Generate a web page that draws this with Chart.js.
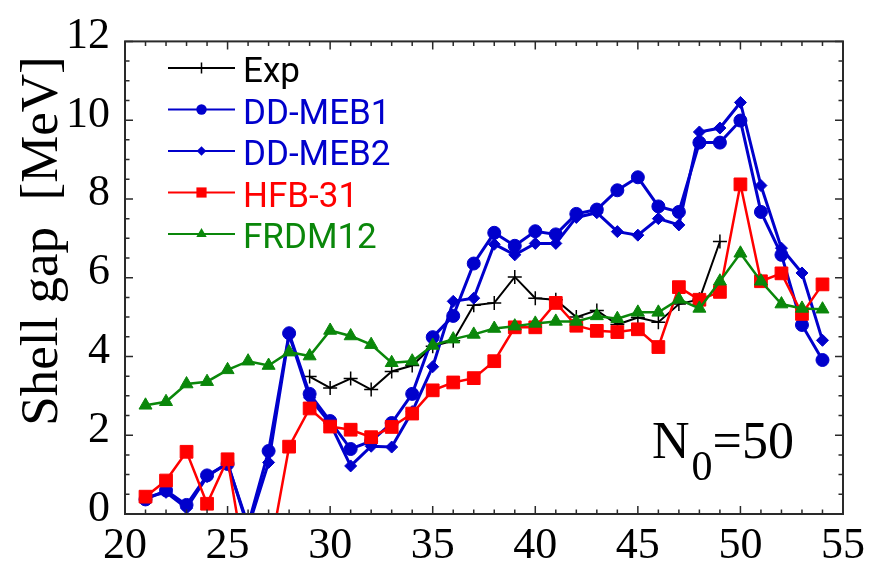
<!DOCTYPE html>
<html>
<head>
<meta charset="utf-8">
<style>
  html, body { margin: 0; padding: 0; background: #fff; overflow: hidden; }
  #wrap { width: 871px; height: 569px; position: relative; }
</style>
<script src="https://cdn.jsdelivr.net/npm/chart.js@4.4.1/dist/chart.umd.min.js"></script>
</head>
<body>
<div id="wrap"><canvas id="c" width="871" height="569"></canvas></div>
<script>
// Proton number Z along the N0 = 50 shell closure
const protonNumbers = [21, 22, 23, 24, 25, 26, 27, 28, 29, 30, 31, 32, 33, 34, 35, 36, 37,
                       38, 39, 40, 41, 42, 43, 44, 45, 46, 47, 48, 49, 50, 51, 52, 53, 54];

// Shell gaps in MeV (null = no value)
const expGap = [null, null, null, null, null, null, null, null,
                3.49, 3.20, 3.44, 3.16, 3.62, 3.77, 4.26, 4.40, 5.30, 5.36, 6.02, 5.48, 5.44,
                5.00, 5.17, 4.81, 4.99, 4.87, 5.33, 5.45, 6.92, null, null, null, null, null];
const ddMeb1Gap = [0.37, 0.60, 0.23, 0.98, 1.27, -0.28, 1.60, 4.59, 3.05, 2.36, 1.65, 1.85,
                   2.31, 3.05, 4.49, 5.03, 6.36, 7.14, 6.81, 7.18, 7.10, 7.62, 7.73, 8.22,
                   8.55, 7.81, 7.67, 9.43, 9.43, 9.99, 7.67, 6.58, 4.80, 3.91];
const ddMeb2Gap = [0.42, 0.55, 0.15, 0.95, 1.30, -0.35, 1.31, 4.55, 2.95, 2.30, 1.22, 1.72,
                   1.70, 2.60, 3.74, 5.40, 5.48, 6.85, 6.58, 6.87, 6.87, 7.53, 7.65, 7.17,
                   7.08, 7.50, 7.34, 9.70, 9.80, 10.45, 8.34, 6.75, 6.12, 4.41];
const hfb31Gap = [0.44, 0.85, 1.58, 0.26, 1.39, -1.70, -1.15, 1.71, 2.68, 2.22, 2.14, 1.95,
                  2.21, 2.55, 3.14, 3.34, 3.45, 3.88, 4.74, 4.74, 5.36, 4.78, 4.65, 4.62,
                  4.69, 4.24, 5.76, 5.44, 5.64, 8.37, 5.91, 6.11, 5.08, 5.83];
const frdm12Gap = [2.76, 2.85, 3.30, 3.36, 3.66, 3.88, 3.77, 4.11, 4.01, 4.66, 4.52, 4.30,
                   3.84, 3.88, 4.28, 4.44, 4.56, 4.71, 4.77, 4.84, 4.89, 4.89, 5.03, 4.96,
                   5.12, 5.12, 5.45, 5.22, 5.91, 6.62, 5.91, 5.33, 5.22, 5.20];

const seriesNames = ['Exp', 'DD-MEB1', 'DD-MEB2', 'HFB-31', 'FRDM12'];

// Axis ranges and tick steps
const xRange = [20, 55];
const xLabelStep = 5;
const yRange = [0, 12];
const yLabelStep = 2;

const BLUE = '#0000cc';
const RED = '#ff0000';
const GREEN = '#0a870a';
const BLACK = '#000000';

function toPoints(values) {
  return protonNumbers.map((z, i) => ({ x: z, y: values[i] }));
}

const styles = [
  { color: BLACK, style: 'cross', radius: 7, line: 2, order: 4, pbw: 1.5 },
  { color: BLUE, style: 'circle', radius: 6.5, line: 3, order: 2, pbw: 1 },
  { color: BLUE, style: 'rectRot', radius: 6, line: 3, order: 3, pbw: 1 },
  { color: RED, style: 'rect', radius: 9, line: 2.5, order: 1, pbw: 1 },
  { color: GREEN, style: 'triangle', radius: 7.5, line: 2.5, order: 0, pbw: 1 }
];
const seriesValues = [expGap, ddMeb1Gap, ddMeb2Gap, hfb31Gap, frdm12Gap];

const datasets = seriesNames.map((name, i) => ({
  label: name,
  data: toPoints(seriesValues[i]),
  borderColor: styles[i].color,
  backgroundColor: styles[i].color,
  borderWidth: styles[i].line,
  pointStyle: styles[i].style,
  pointRadius: styles[i].radius,
  pointBorderWidth: styles[i].pbw,
  pointBorderColor: styles[i].color,
  pointBackgroundColor: styles[i].color,
  tension: 0,
  spanGaps: false,
  order: styles[i].order
}));

// Box frame with inward ticks on all four sides
const frameTicks = {
  id: 'frameTicks',
  afterDatasetsDraw(chart) {
    const { ctx, chartArea: a, scales: { x, y } } = chart;
    ctx.save();
    ctx.strokeStyle = '#2a2a2a';
    ctx.lineWidth = 1.5;
    ctx.beginPath();
    for (let v = xRange[0]; v <= xRange[1]; v += 1) {
      const px = x.getPixelForValue(v);
      const len = v % xLabelStep === 0 ? 8 : 4.5;
      ctx.moveTo(px, a.bottom); ctx.lineTo(px, a.bottom - len);
      ctx.moveTo(px, a.top); ctx.lineTo(px, a.top + len);
    }
    for (let v = yRange[0]; v <= yRange[1] + 1e-9; v += 0.5) {
      const py = y.getPixelForValue(v);
      const len = Math.abs(v % yLabelStep) < 1e-9 ? 8 : 4.5;
      ctx.moveTo(a.left, py); ctx.lineTo(a.left + len, py);
      ctx.moveTo(a.right, py); ctx.lineTo(a.right - len, py);
    }
    ctx.stroke();
    ctx.lineWidth = 2;
    ctx.strokeRect(a.left, a.top, a.right - a.left, a.bottom - a.top);
    ctx.restore();
  }
};

function drawMarker(ctx, st, x, y, r) {
  ctx.save();
  ctx.fillStyle = st.color;
  ctx.strokeStyle = st.color;
  ctx.lineWidth = st.pbw;
  ctx.beginPath();
  if (st.style === 'circle') {
    ctx.arc(x, y, r, 0, Math.PI * 2);
    ctx.fill();
  } else if (st.style === 'rect') {
    const s = r * Math.SQRT1_2;
    ctx.rect(x - s, y - s, 2 * s, 2 * s);
    ctx.fill();
  } else if (st.style === 'rectRot') {
    ctx.moveTo(x, y - r); ctx.lineTo(x + r, y); ctx.lineTo(x, y + r); ctx.lineTo(x - r, y);
    ctx.closePath();
    ctx.fill();
  } else if (st.style === 'triangle') {
    for (let k = 0; k < 3; k++) {
      const ang = -Math.PI / 2 + k * 2 * Math.PI / 3;
      const px = x + Math.cos(ang) * r, py = y + Math.sin(ang) * r;
      if (k === 0) ctx.moveTo(px, py); else ctx.lineTo(px, py);
    }
    ctx.closePath();
    ctx.fill();
  } else if (st.style === 'cross') {
    ctx.moveTo(x, y - r); ctx.lineTo(x, y + r);
    ctx.moveTo(x - r, y); ctx.lineTo(x + r, y);
    ctx.stroke();
  }
  ctx.restore();
}

// Legend in the upper-left corner of the plot: line with a centred marker, coloured label
const insideLegend = {
  id: 'insideLegend',
  afterDraw(chart) {
    const { ctx } = chart;
    const x0 = 168, x1 = 235, textX = 243;
    const rowTop = 68, rowStep = 41.5;
    ctx.save();
    ctx.font = '35px Roboto, "Liberation Sans", sans-serif';
    ctx.textAlign = 'left';
    ctx.textBaseline = 'alphabetic';
    seriesNames.forEach((name, i) => {
      const st = styles[i];
      const ry = rowTop + i * rowStep;
      ctx.strokeStyle = st.color;
      ctx.lineWidth = 2;
      ctx.beginPath();
      ctx.moveTo(x0, ry); ctx.lineTo(x1, ry);
      ctx.stroke();
      drawMarker(ctx, st, (x0 + x1) / 2, ry, st.radius * 0.8);
      ctx.fillStyle = st.color;
      ctx.fillText(name, textX, ry + 14);
    });
    ctx.restore();
  }
};

// Axis title on the left and the N0 = 50 annotation
const annotations = {
  id: 'annotations',
  afterDraw(chart) {
    const { ctx } = chart;
    ctx.save();
    ctx.fillStyle = '#000';
    ctx.font = '53px "Liberation Serif", "Times New Roman", serif';
    ctx.translate(57, 241);
    ctx.rotate(-Math.PI / 2);
    ctx.textAlign = 'center';
    ctx.textBaseline = 'alphabetic';
    ctx.fillText('Shell gap  [MeV]', 0, 0);
    ctx.restore();

    ctx.save();
    ctx.fillStyle = '#000';
    ctx.textAlign = 'left';
    ctx.textBaseline = 'alphabetic';
    ctx.font = '52px "Liberation Serif", "Times New Roman", serif';
    ctx.fillText('N', 652, 458);
    const nW = ctx.measureText('N').width;
    ctx.font = '42px "Liberation Serif", "Times New Roman", serif';
    ctx.fillText('0', 652 + nW + 2, 480);
    const zW = ctx.measureText('0').width;
    ctx.font = '52px "Liberation Serif", "Times New Roman", serif';
    ctx.fillText('=50', 652 + nW + 2 + zW, 458);
    ctx.restore();
  }
};

const tickFont = { family: '"Liberation Serif", "Times New Roman", serif', size: 44 };

new Chart(document.getElementById('c'), {
  type: 'line',
  data: { datasets },
  options: {
    responsive: false,
    animation: false,
    events: [],
    layout: { padding: { top: 33, right: 24, left: 0, bottom: 0 } },
    plugins: { legend: { display: false }, tooltip: { enabled: false } },
    scales: {
      x: {
        type: 'linear',
        min: xRange[0], max: xRange[1],
        grid: { display: false, drawTicks: false },
        border: { display: false },
        ticks: { stepSize: xLabelStep, color: '#000', font: tickFont, padding: 6,
                 maxRotation: 0, autoSkip: false, callback: v => String(v) },
        afterFit: s => { s.height = 55; }
      },
      y: {
        type: 'linear',
        min: yRange[0], max: yRange[1],
        grid: { display: false, drawTicks: false },
        border: { display: false },
        ticks: { stepSize: yLabelStep, color: '#000', font: tickFont, padding: 15,
                 labelOffset: -5, autoSkip: false, callback: v => String(v) },
        afterFit: s => { s.width = 125; }
      }
    }
  },
  plugins: [frameTicks, insideLegend, annotations]
});
</script>
</body>
</html>
